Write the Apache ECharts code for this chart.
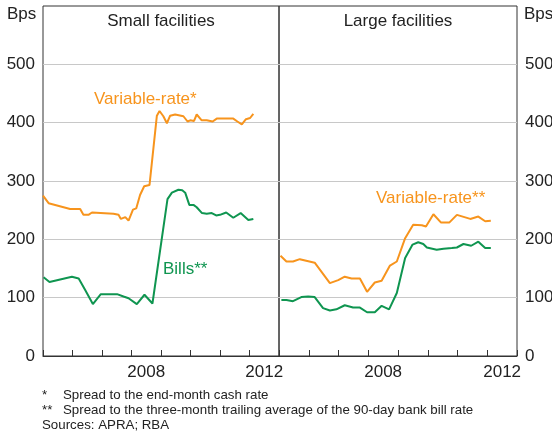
<!DOCTYPE html>
<html>
<head>
<meta charset="utf-8">
<script src="https://cdn.jsdelivr.net/npm/echarts@6/dist/echarts.min.js"></script>
<style>
html,body{margin:0;padding:0;background:#fff;}
#main{width:552px;height:435px;}
</style>
</head>
<body>
<div id="main"></div>
<script>
// small facilities
var smallVarX=[2005.00,2005.19,2005.92,2006.26,2006.37,2006.54,2006.66,2007.39,2007.56,2007.64,2007.79,2007.90,2008.05,2008.16,2008.29,2008.43,2008.61,2008.86,2008.95,2009.08,2009.20,2009.31,2009.48,2009.76,2009.90,2009.99,2010.12,2010.21,2010.38,2010.55,2010.75,2010.89,2011.45,2011.59,2011.74,2011.88,2012.02,2012.13];
var smallVarY=[275,262,252,252,242,242,246,244,242,235,238,232,251,253,276,291,293,412,420,411,399,412,414,411,402,404,403,414,404,404,402,407,407,402,397,406,408,415];
var smallBillX=[2005.02,2005.22,2005.98,2006.21,2006.43,2006.69,2006.96,2007.51,2007.73,2007.90,2008.18,2008.44,2008.71,2009.22,2009.37,2009.59,2009.72,2009.82,2009.96,2010.10,2010.21,2010.39,2010.55,2010.72,2010.87,2011.00,2011.21,2011.45,2011.70,2011.96,2012.13];
var smallBillY=[135,127,136,133,113,89,106,106,102,99,89,105,90,269,280,285,284,280,259,259,255,245,244,245,241,242,246,237,245,233,235];
// large facilities
var largeVarX=[2005.05,2005.25,2005.47,2005.70,2006.20,2006.71,2006.99,2007.21,2007.44,2007.72,2007.96,2008.22,2008.45,2008.73,2008.96,2009.24,2009.51,2009.80,2009.94,2010.19,2010.44,2010.73,2010.98,2011.43,2011.70,2011.93,2012.12];
var largeVarY=[172,162,162,166,160,125,130,136,133,133,110,126,129,155,162,202,225,224,222,243,229,229,242,235,239,231,232];
var largeBillX=[2005.08,2005.25,2005.47,2005.75,2005.98,2006.20,2006.48,2006.71,2006.93,2007.21,2007.49,2007.72,2007.96,2008.22,2008.45,2008.70,2008.96,2009.24,2009.49,2009.68,2009.85,2009.97,2010.30,2010.53,2010.81,2010.98,2011.20,2011.46,2011.70,2011.93,2012.12];
var largeBillY=[96,96,94,101,102,101,82,78,80,87,83,83,75,75,86,80,108,168,191,195,192,186,182,184,185,186,192,189,196,185,185];

var yearLabels=[2008,2012];
var yTicks=[0,100,200,300,400,500];

var orange='#f7941d';
var green='#0f9550';
var txt='#222';
var font='Liberation Sans, Arial, sans-serif';

function pairs(xs,ys){
    var out=[];
    for(var i=0;i<xs.length;i++){out.push([xs[i],ys[i]]);}
    return out;
}

function tickAxis(g){
    return {
        type:'value',gridIndex:g,min:2005,max:2013,interval:1,position:'bottom',
        axisLine:{show:true,lineStyle:{color:'#333',width:1}},
        axisTick:{show:true,inside:true,length:6,lineStyle:{color:'#333'}},
        axisLabel:{show:false},splitLine:{show:false}
    };
}
function labelAxis(g){
    return {
        type:'value',gridIndex:g,min:2005,max:2013,interval:0.5,position:'bottom',
        axisLine:{show:false},axisTick:{show:false},splitLine:{show:false},
        axisLabel:{show:true,margin:8,color:txt,fontSize:17,fontFamily:font,
            formatter:function(v){
                var y=Math.floor(v);
                if(v-y===0.5 && yearLabels.indexOf(y)>=0){return String(y);}
                return '';
            }}
    };
}
function valAxis(g,pos,margin){
    return {
        type:'value',gridIndex:g,min:0,max:600,interval:100,position:pos,
        axisLine:{show:false},axisTick:{show:false},
        splitLine:{show:true,lineStyle:{color:['none','#c8c8c8','#c8c8c8','#c8c8c8','#c8c8c8','#c8c8c8','none'],width:1}},
        axisLabel:{show:true,margin:margin,color:txt,fontSize:17,fontFamily:font,
            formatter:function(v){return yTicks.indexOf(v)>=0?String(v):'';}}
    };
}
function line(x,y,data,color){
    return {type:'line',xAxisIndex:x,yAxisIndex:y,data:data,symbol:'none',
        lineStyle:{color:color,width:2},itemStyle:{color:color},animation:false};
}

var chart=echarts.init(document.getElementById('main'));
chart.setOption({
    animation:false,
    grid:[
        {left:43,top:6,width:236,height:350,show:true,borderColor:'#333',borderWidth:1,outerBoundsMode:'none',containLabel:false},
        {left:279,top:6,width:238,height:350,show:true,borderColor:'#333',borderWidth:1,outerBoundsMode:'none',containLabel:false}
    ],
    xAxis:[tickAxis(0),tickAxis(1),labelAxis(0),labelAxis(1)],
    yAxis:[valAxis(0,'left',8),valAxis(1,'right',8)],
    series:[
        line(0,0,pairs(smallVarX,smallVarY),orange),
        line(0,0,pairs(smallBillX,smallBillY),green),
        line(1,1,pairs(largeVarX,largeVarY),orange),
        line(1,1,pairs(largeBillX,largeBillY),green)
    ],
    graphic:[
        {type:'text',left:7,top:6,style:{text:'Bps',fill:txt,font:'17px '+font}},
        {type:'text',left:524,top:6,style:{text:'Bps',fill:txt,font:'17px '+font}},
        {type:'text',x:161,y:21,style:{text:'Small facilities',fill:txt,font:'17px '+font,align:'center',verticalAlign:'middle'}},
        {type:'text',x:398,y:21,style:{text:'Large facilities',fill:txt,font:'17px '+font,align:'center',verticalAlign:'middle'}},
        {type:'text',x:94,y:99,style:{text:'Variable-rate*',fill:orange,font:'17px '+font,verticalAlign:'middle'}},
        {type:'text',x:163,y:269,style:{text:'Bills**',fill:green,font:'17px '+font,verticalAlign:'middle'}},
        {type:'text',x:376,y:198,style:{text:'Variable-rate**',fill:orange,font:'17px '+font,verticalAlign:'middle'}},
        {type:'text',x:42,y:395,style:{text:'*',fill:txt,font:'13.3px '+font,verticalAlign:'middle'}},
        {type:'text',x:63,y:395,style:{text:'Spread to the end-month cash rate',fill:txt,font:'13.3px '+font,verticalAlign:'middle'}},
        {type:'text',x:42,y:410,style:{text:'**',fill:txt,font:'13.3px '+font,verticalAlign:'middle'}},
        {type:'text',x:63,y:410,style:{text:'Spread to the three-month trailing average of the 90-day bank bill rate',fill:txt,font:'13.3px '+font,verticalAlign:'middle'}},
        {type:'text',x:42,y:425,style:{text:'Sources: APRA; RBA',fill:txt,font:'13.3px '+font,verticalAlign:'middle'}}
    ]
});
</script>
</body>
</html>
